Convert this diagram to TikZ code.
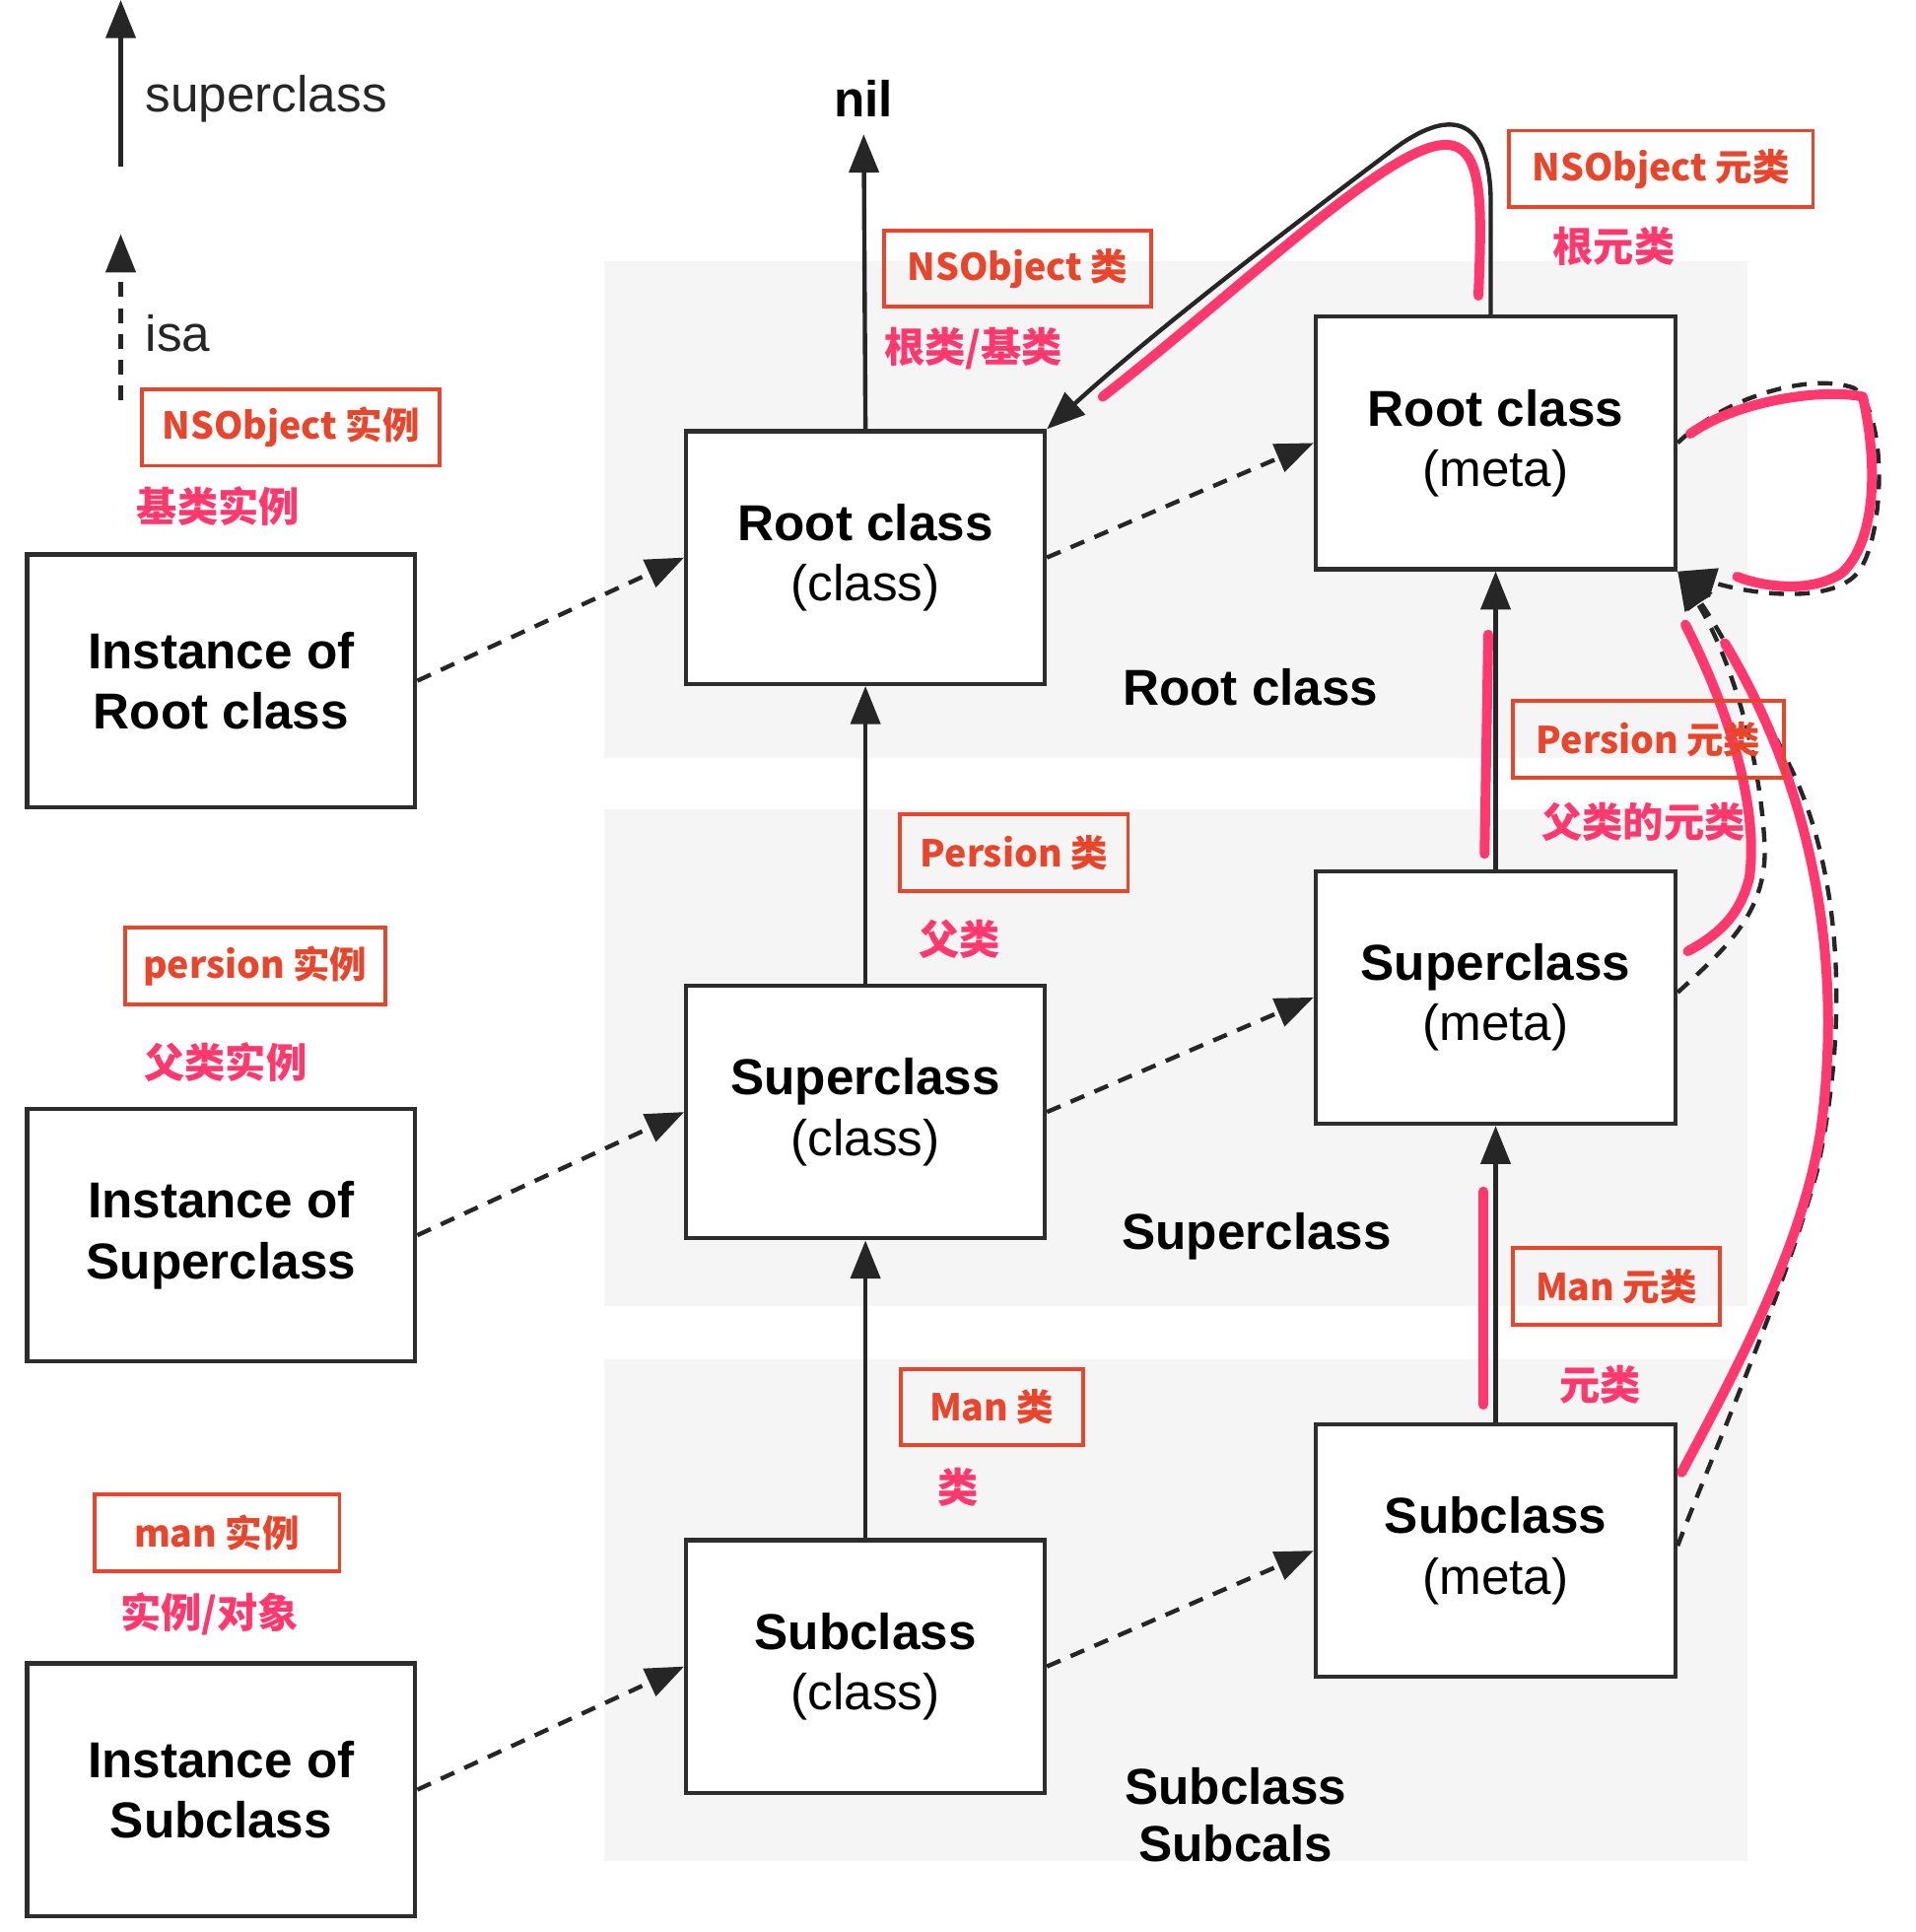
\documentclass[tikz,border=0pt]{standalone}
\usepackage{fontspec}
\setmainfont{Liberation Sans}
\newfontfamily\cjk{Noto Sans CJK SC}
\usetikzlibrary{arrows.meta}
\definecolor{redbox}{RGB}{232,70,44}
\definecolor{pinkhl}{RGB}{255,56,110}
\definecolor{bandgray}{RGB}{245,245,245}
\definecolor{boxline}{RGB}{45,45,45}
\tikzset{
  diagbox/.style={draw=boxline, line width=3.5pt, fill=white, inner sep=0pt, align=center,
    minimum height=205pt, font=\fontsize{41}{49}\selectfont},
  instbox/.style={diagbox, minimum width=315pt},
  clsbox/.style={diagbox, minimum width=291pt},
  metabox/.style={diagbox, minimum width=292pt},
  tipx/.style={-{Triangle[length=31pt,width=24pt]}},
  supline/.style={tipx, draw=black!85, line width=3.5pt},
  isaline/.style={tipx, draw=black!85, line width=3.5pt, dash pattern=on 12pt off 9pt},
  redlbl/.style={draw=redbox, line width=3pt, text=redbox, inner sep=0pt, minimum height=62pt,
    font=\cjk\bfseries\fontsize{30}{36}\selectfont},
  pinklbl/.style={text=pinkhl, inner sep=0pt, font=\cjk\bfseries\fontsize{33}{40}\selectfont},
  bandlbl/.style={inner sep=0pt, align=center, font=\bfseries\fontsize{41}{47}\selectfont},
  legendlbl/.style={inner sep=0pt, anchor=base west, text=black!85, font=\fontsize{41}{49}\selectfont},
  hl/.style={draw=pinkhl, line width=8pt, line cap=round, line join=round}
}
\begin{document}
\begin{tikzpicture}[x=1pt,y=-1pt]
\useasboundingbox (0,0) rectangle (1555,1568);
\fill[white] (0,0) rectangle (1555,1568);
% bands
\fill[bandgray] (490,212) rectangle (1418,615);
\fill[bandgray] (490,657) rectangle (1418,1060);
\fill[bandgray] (490,1103) rectangle (1418,1510);

% legend
\coordinate (lgsa) at (98,135);
\coordinate (lgsb) at (98,0);
\coordinate (lgia) at (98,325);
\coordinate (lgib) at (98,190);
\draw[supline] (lgsa) -- (lgsb);
\draw[isaline] (lgia) -- (lgib);
\node[legendlbl] (lgsup) at (118,91) {superclass};
\node[legendlbl] (lgisa) at (118,285) {isa};

% boxes
\node[instbox] (irt) at (179.5,552.5) {\textbf{Instance of}\\\textbf{Root class}};
\node[instbox] (isp) at (179.5,1002.5) {\textbf{Instance of}\\\textbf{Superclass}};
\node[instbox] (isb) at (179.5,1452.5) {\textbf{Instance of}\\\textbf{Subclass}};
\node[clsbox] (crt) at (702.5,452.5) {\textbf{Root class}\\(class)};
\node[clsbox] (csp) at (702.5,902.5) {\textbf{Superclass}\\(class)};
\node[clsbox] (csb) at (702.5,1352.5) {\textbf{Subclass}\\(class)};
\node[metabox] (mrt) at (1214,359.5) {\textbf{Root class}\\(meta)};
\node[metabox] (msp) at (1214,809.5) {\textbf{Superclass}\\(meta)};
\node[metabox] (msb) at (1214,1258.5) {\textbf{Subclass}\\(meta)};

\node[inner sep=0pt, font=\bfseries\fontsize{41}{49}\selectfont] (nil) at (701,80) {nil};

% band labels
\node[bandlbl] (lrt) at (1015,558) {Root class};
\node[bandlbl] (lsp) at (1020,1003) {Superclass};
\node[bandlbl] (lsb) at (1003,1473) {Subclass\\Subcals};

% isa arrows instance -> class
\draw[isaline] (irt.east) -- (crt.west);
\draw[isaline] (isp.east) -- (csp.west);
\draw[isaline] (isb.east) -- (csb.west);
% isa arrows class -> meta
\draw[isaline] (crt.east) -- (mrt.west);
\draw[isaline] (csp.east) -- (msp.west);
\draw[isaline] (csb.east) -- (msb.west);

% superclass arrows
\draw[supline] (csb.north) -- (csp.south);
\draw[supline] (csp.north) -- (crt.south);
\draw[supline, shorten >=14pt] (crt.north) -- (nil.south);
\draw[supline] (msb.north) -- (msp.south);
\draw[supline] (msp.north) -- (mrt.south);
\draw[supline] ([xshift=-4pt]mrt.north) -- (1210,160) .. controls (1208,92) and (1175,88) .. (1130,122) .. controls (1020,205) and (930,275) .. (crt.north east);

% meta isa arrows
\draw[isaline] (mrt.east) .. controls (1400,322) and (1470,302) .. (1505,315) .. controls (1532,335) and (1530,430) .. (1510,462) .. controls (1490,492) and (1420,482) .. (mrt.south east);
\draw[isaline] ([yshift=4pt]msp.east) .. controls (1400,770) and (1437,740) .. (1432,680) .. controls (1427,600) and (1400,525) .. (mrt.south east);
\draw[isaline] ([yshift=4pt]msb.east) .. controls (1390,1180) and (1448,1050) .. (1475,950) .. controls (1503,820) and (1492,700) .. (1452,620) .. controls (1420,555) and (1392,505) .. (mrt.south east);

% pink highlights
\draw[hl] (895,322) .. controls (1000,240) and (1120,125) .. (1168,118) .. controls (1205,112) and (1203,165) .. (1200,240);
\draw[hl] (1372,352) .. controls (1410,325) and (1480,315) .. (1512,322) .. controls (1525,380) and (1522,440) .. (1495,465) .. controls (1470,482) and (1430,476) .. (1410,468);
\draw[hl] (1208,515) -- (1205,693);
\draw[hl] (1204,967) -- (1204,1140);
\draw[hl] (1368,507) .. controls (1400,570) and (1428,650) .. (1420,712) .. controls (1412,745) and (1392,760) .. (1370,772);
\draw[hl] (1365,1195) .. controls (1410,1110) and (1470,1000) .. (1480,900) .. controls (1495,760) and (1465,630) .. (1400,522);

% red labels
\node[redlbl, minimum width=242pt] (r1) at (236,347) {NSObject 实例};
\node[redlbl, minimum width=217pt] (r2) at (826,218) {NSObject 类};
\node[redlbl, minimum width=247pt] (r3) at (1348,137) {NSObject 元类};
\node[redlbl, minimum width=185pt] (r4) at (823,692) {Persion 类};
\node[redlbl, minimum width=211pt] (r5) at (207,784) {persion 实例};
\node[redlbl, minimum width=220pt] (r6) at (1338,600) {Persion 元类};
\node[redlbl, minimum width=148pt] (r7) at (805,1142) {Man 类};
\node[redlbl, minimum width=199pt] (r8) at (176,1244) {man 实例};
\node[redlbl, minimum width=168pt] (r9) at (1312,1044) {Man 元类};

% pink labels
\node[pinklbl] (p1) at (177,411) {基类实例};
\node[pinklbl] (p2) at (790,283) {根类/基类};
\node[pinklbl] (p3) at (1310,200) {根元类};
\node[pinklbl] (p4) at (779,762) {父类};
\node[pinklbl] (p5) at (183,862) {父类实例};
\node[pinklbl] (p6) at (1334,667) {父类的元类};
\node[pinklbl] (p7) at (778,1207) {类};
\node[pinklbl] (p8) at (170,1310) {实例/对象};
\node[pinklbl] (p9) at (1299,1124) {元类};
\end{tikzpicture}
\end{document}
